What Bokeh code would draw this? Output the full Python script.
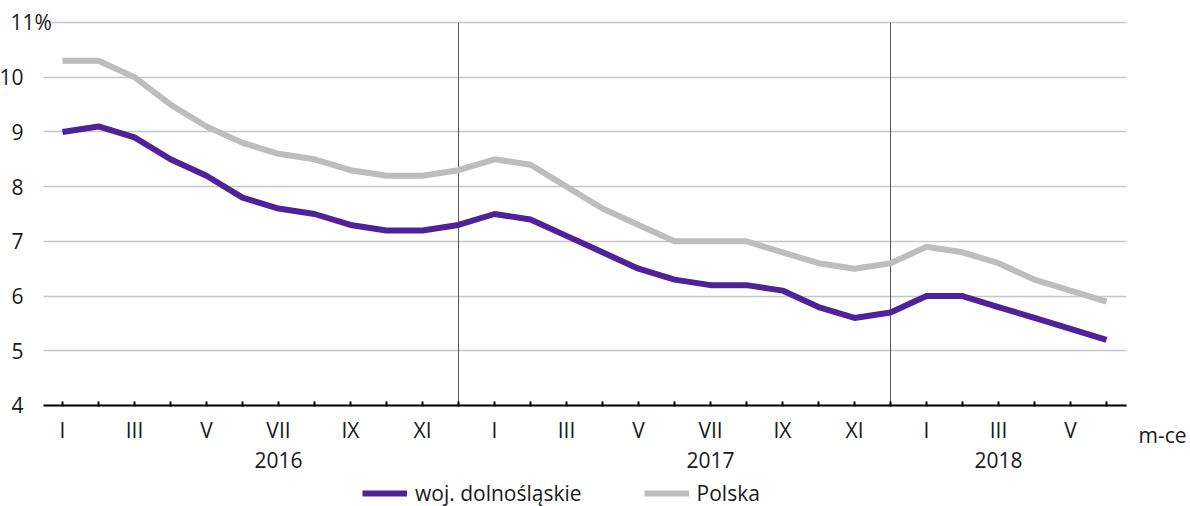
from bokeh.plotting import figure
from bokeh.models import (Range1d, FixedTicker, Label, Legend, LegendItem,
                          LinearAxis, Grid)
from bokeh.embed import file_html
from bokeh.resources import INLINE

# ---- data ----
months_idx = list(range(30))  # Jan 2016 .. Jun 2018
roman = ["I", "II", "III", "IV", "V", "VI", "VII", "VIII", "IX", "X", "XI", "XII"]
shown_months = {"I", "III", "V", "VII", "IX", "XI"}
years = ["2016", "2017", "2018"]
year_pos = [6, 18, 26]
dolnoslaskie = [9.0, 9.1, 8.9, 8.5, 8.2, 7.8, 7.6, 7.5, 7.3, 7.2, 7.2, 7.3,
                7.5, 7.4, 7.1, 6.8, 6.5, 6.3, 6.2, 6.2, 6.1, 5.8, 5.6, 5.7,
                6.0, 6.0, 5.8, 5.6, 5.4, 5.2]
polska = [10.3, 10.3, 10.0, 9.5, 9.1, 8.8, 8.6, 8.5, 8.3, 8.2, 8.2, 8.3,
          8.5, 8.4, 8.0, 7.6, 7.3, 7.0, 7.0, 7.0, 6.8, 6.6, 6.5, 6.6,
          6.9, 6.8, 6.6, 6.3, 6.1, 5.9]
y_ticks = [4, 5, 6, 7, 8, 9, 10, 11]
separators = [11, 23]
series_names = ["woj. dolnośląskie", "Polska"]

FONT = "Open Sans"
TXT = "#1a1a1a"
FS = "21px"
PURPLE = "#50229a"
GREY = "#bdbdbd"
W, H = 1190, 506

X_BOUNDS = (-0.53, 29.56)
Y_BOUNDS = (y_ticks[0], y_ticks[-1])

# frame covers the whole canvas; axes are drawn at fixed locations
p = figure(width=W, height=H, output_backend="svg", toolbar_location=None,
           x_range=Range1d(-1.7222, 31.3333), y_range=Range1d(2.154, 11.402),
           x_axis_location=None, y_axis_location=None, min_border=0)
p.outline_line_color = None
# drop the default grids
p.xgrid.visible = False
p.ygrid.visible = False

# horizontal grid lines
p.add_layout(Grid(dimension=1, ticker=FixedTicker(ticks=y_ticks),
                  cross_bounds=X_BOUNDS, grid_line_color="#c6c6c6",
                  grid_line_width=1.3))

# y axis (labels only)
yax = LinearAxis(fixed_location=X_BOUNDS[0], bounds=Y_BOUNDS,
                 ticker=FixedTicker(ticks=y_ticks),
                 major_label_overrides={11: ""},
                 axis_line_color=None, major_tick_line_color=None,
                 minor_tick_line_color=None, major_label_standoff=14,
                 major_label_text_font=FONT, major_label_text_font_size=FS,
                 major_label_text_color=TXT)
p.add_layout(yax, "left")

# x axis (months)
xax = LinearAxis(fixed_location=Y_BOUNDS[0], bounds=X_BOUNDS,
                 ticker=FixedTicker(ticks=months_idx),
                 major_label_overrides={
                     i: (roman[i % 12] if roman[i % 12] in shown_months else "")
                     for i in months_idx},
                 axis_line_color="black", axis_line_width=2,
                 major_tick_line_color="black", major_tick_line_width=2,
                 major_tick_in=4, major_tick_out=1,
                 minor_tick_line_color=None, major_label_standoff=10,
                 major_label_text_font=FONT, major_label_text_font_size=FS,
                 major_label_text_color=TXT)
p.add_layout(xax, "below")

# x axis (years)
yrax = LinearAxis(fixed_location=Y_BOUNDS[0], bounds=X_BOUNDS,
                  ticker=FixedTicker(ticks=year_pos),
                  major_label_overrides={xp: yr for xp, yr in zip(year_pos, years)},
                  axis_line_color=None, major_tick_line_color=None,
                  minor_tick_line_color=None, major_label_standoff=41,
                  major_label_text_font=FONT, major_label_text_font_size=FS,
                  major_label_text_color=TXT)
p.add_layout(yrax, "below")

# year separators
p.segment(x0=separators, y0=Y_BOUNDS[0], x1=separators, y1=Y_BOUNDS[1],
          line_color="#555555", line_width=1)

r_pl = p.line(months_idx, polska, line_color=GREY, line_width=6)
r_dl = p.line(months_idx, dolnoslaskie, line_color=PURPLE, line_width=6)

# free texts
p.add_layout(Label(x=-1.444, y=11, text="11%", text_align="left",
                   text_baseline="middle", text_font=FONT, text_font_size=FS,
                   text_color=TXT, background_fill_color="white"))
p.add_layout(Label(x=29.89, y=3.452, text="m-ce", text_align="left",
                   text_baseline="middle", text_font=FONT, text_font_size=FS,
                   text_color=TXT))

legend = Legend(items=[LegendItem(label=series_names[0], renderers=[r_dl]),
                       LegendItem(label=series_names[1], renderers=[r_pl])],
                orientation="horizontal", location=(362, -1),
                label_text_font=FONT, label_text_font_size=FS,
                label_text_color=TXT, glyph_width=45, label_standoff=8,
                spacing=62, padding=0, margin=0, border_line_color=None,
                background_fill_alpha=0)
p.add_layout(legend, "center")

open("out.html", "w").write(file_html(p, INLINE))
